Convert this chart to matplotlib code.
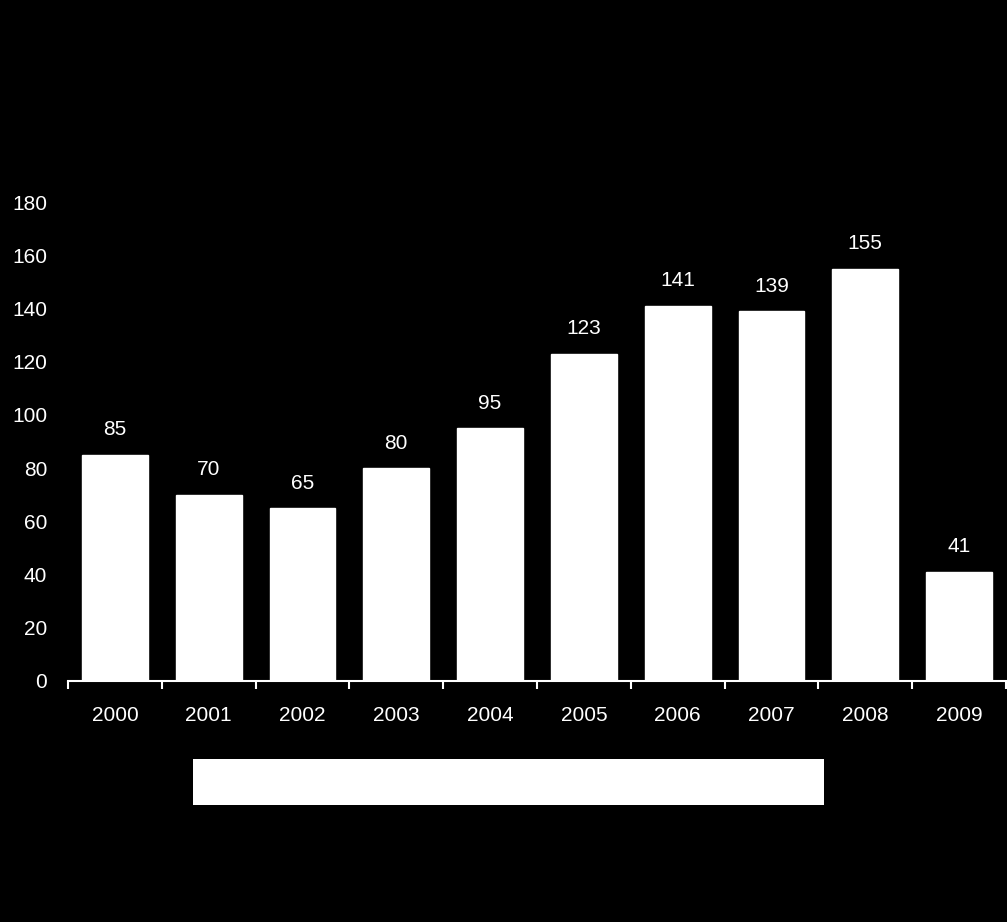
import matplotlib.pyplot as plt
from matplotlib.patches import Rectangle
import numpy as np

plt.rcParams['font.family'] = ['Liberation Sans', 'DejaVu Sans']

years = ['2000', '2001', '2002', '2003', '2004', '2005', '2006', '2007', '2008', '2009']
values = [85, 70, 65, 80, 95, 123, 141, 139, 155, 41]
yticks = [0, 20, 40, 60, 80, 100, 120, 140, 160, 180]

W, H = 1007, 922
fig = plt.figure(figsize=(W / 100, H / 100), dpi=100, facecolor='black')
ax = fig.add_axes([68 / W, (H - 681) / H, (1006 - 68) / W, (681 - 202) / H])
ax.set_facecolor('black')

x = np.arange(len(years))
bars = ax.bar(x, values, width=0.7, color='white', edgecolor='white')
for xi, v in zip(x, values):
    ax.annotate(str(v), (xi, v), xytext=(0, 18), textcoords='offset points',
                ha='center', va='center', color='white', fontsize=15)

ax.set_xlim(-0.5, len(years) - 0.5)
ax.set_ylim(0, 180)
ax.set_yticks(yticks)
ax.tick_params(axis='y', length=0, pad=15, colors='white', labelsize=15)
ax.set_xticks(x)
ax.set_xticklabels(years)
ax.tick_params(axis='x', which='major', length=0, pad=18, colors='white', labelsize=15)
ax.set_xticks(np.arange(len(years) + 1) - 0.5, minor=True)
ax.tick_params(axis='x', which='minor', length=6, width=1.5, color='white', direction='out')

for s in ['top', 'right', 'left']:
    ax.spines[s].set_visible(False)
ax.spines['bottom'].set_color('white')
ax.spines['bottom'].set_linewidth(1.5)

# blank white box under the axis
fig.patches.append(Rectangle((193 / W, (H - 805) / H), (824 - 193) / W, (805 - 759) / H,
                             transform=fig.transFigure, facecolor='white', edgecolor='none'))

fig.savefig('out.png', dpi=100, facecolor='black')
